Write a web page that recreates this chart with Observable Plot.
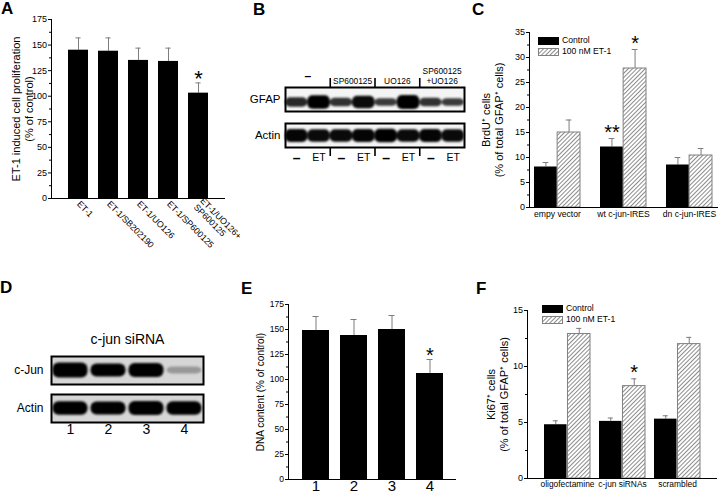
<!DOCTYPE html>
<html>
<head>
<meta charset="utf-8">
<script src="https://cdn.jsdelivr.net/npm/d3@7"></script>
<script src="https://cdn.jsdelivr.net/npm/@observablehq/plot@0.6"></script>
<style>
  body { margin: 0; background: #fff; }
  #fig { position: relative; width: 720px; height: 495px; overflow: hidden; background: #fff;
         font-family: 'Liberation Sans', Arial, Helvetica, sans-serif; color: #000; }
  .panel { position: absolute; }
  .panel svg { overflow: visible; }
  .letter { position: absolute; font-weight: bold; font-size: 17px; line-height: 17px; }
  .legend { position: absolute; font-size: 8.6px; line-height: 11px; }
  .legend div { display: flex; align-items: center; height: 11px; }
  .legend svg { margin-right: 3px; }
</style>
</head>
<body>
<svg width="0" height="0" style="position:absolute">
  <defs>
    <pattern id="hatch" patternUnits="userSpaceOnUse" width="3" height="3" patternTransform="rotate(45)">
      <rect width="3" height="3" fill="white"></rect>
      <line x1="1.5" y1="0" x2="1.5" y2="3" stroke="#8c8c8c" stroke-width="1"></line>
    </pattern>
    <filter id="blur" x="-20%" y="-60%" width="140%" height="220%">
      <feGaussianBlur stdDeviation="0.8"></feGaussianBlur>
    </filter>
  </defs>
</svg>
<div id="fig"></div>
<script>
// ---------------- data ----------------
// Panel A
const aCategories = ["ET-1", "ET-1/SB202190", "ET-1/UO126", "ET-1/SP600125", "ET-1/UO126+\nSP600125"];
const aMeans = [145, 144, 135, 134, 103];
const aErrors = [12, 13, 12, 13, 10];
const aStars = ["", "", "", "", "*"];
const aTicks = [0, 25, 50, 75, 100, 125, 150, 175];
const aMinor = [12.5, 37.5, 62.5, 87.5, 112.5, 137.5, 162.5];
const aYLabel = "ET-1 induced cell proliferation\n(% of control)";

// Panel B (western blot, relative band intensity per lane)
const bRows = ["GFAP", "Actin"];
const bTreatments = ["–", "SP600125", "UO126", "SP600125\n+UO126"];
const bLaneLabels = ["–", "ET", "–", "ET", "–", "ET", "–", "ET"];
const bGfap = [0.55, 0.95, 0.45, 0.85, 0.35, 1.0, 0.45, 0.35];
const bActin = [0.9, 0.85, 0.85, 0.9, 0.95, 0.85, 0.9, 0.85];

// Panel C
const cSeries = ["Control", "100 nM ET-1"];
const cGroups = ["empy vector", "wt c-jun-IRES", "dn c-jun-IRES"];
const cControl = [8.1, 12.1, 8.5];
const cControlErr = [0.9, 1.7, 1.5];
const cET = [15.0, 27.8, 10.4];
const cETErr = [2.5, 3.8, 1.4];
const cControlStars = ["", "**", ""];
const cETStars = ["", "*", ""];
const cTicks = [0, 5, 10, 15, 20, 25, 30, 35];
const cMinor = [2.5, 7.5, 12.5, 17.5, 22.5, 27.5, 32.5];
const cYLabel = "BrdU⁺ cells\n(% of total GFAP⁺ cells)";

// Panel D (western blot)
const dTitle = "c-jun siRNA";
const dRows = ["c-Jun", "Actin"];
const dLaneLabels = ["1", "2", "3", "4"];
const dCjun = [1.0, 0.8, 0.9, 0.2];
const dActin = [0.85, 0.8, 0.9, 0.85];

// Panel E
const eLanes = ["1", "2", "3", "4"];
const eMeans = [149, 144, 150, 106];
const eErrors = [14, 16, 14, 14];
const eStars = ["", "", "", "*"];
const eYLabel = "DNA content (% of control)";

// Panel F
const fSeries = ["Control", "100 nM ET-1"];
const fGroups = ["oligofectamine", "c-jun siRNAs", "scrambled"];
const fControl = [4.8, 5.1, 5.3];
const fControlErr = [0.35, 0.3, 0.3];
const fET = [12.9, 8.25, 12.0];
const fETErr = [0.5, 0.65, 0.6];
const fControlStars = ["", "", ""];
const fETStars = ["", "*", ""];
const fTicks = [0, 5, 10, 15];
const fMinor = [2.5, 7.5, 12.5];
const fYLabel = "Ki67⁺ cells\n(% of total GFAP⁺ cells)";

const panelLetters = ["A", "B", "C", "D", "E", "F"];

// ---------------- helpers ----------------
const FONT = "'Liberation Sans', Arial, Helvetica, sans-serif";
const STYLE = {fontFamily: FONT, fontSize: "9px", color: "black", background: "transparent", overflow: "visible"};
const ERR = "#7d7d7d";
const fig = document.getElementById("fig");

function place(node, left, top, width, height) {
  const div = document.createElement("div");
  div.className = "panel";
  div.style.left = left + "px";
  div.style.top = top + "px";
  div.style.width = width + "px";
  div.style.height = height + "px";
  div.appendChild(node);
  fig.appendChild(div);
}

function simpleBars(cfg) {
  const data = cfg.cats.map((c, i) => ({c, v: cfg.means[i], top: cfg.means[i] + cfg.errs[i], s: cfg.stars[i]}));
  const band = d3.scaleBand().domain(cfg.cats).range([cfg.ml, cfg.width - cfg.mr])
    .paddingInner(cfg.pi).paddingOuter(cfg.po).bandwidth();
  const capInset = Math.max(0, (band - 6) / 2);
  return Plot.plot({
    width: cfg.width, height: cfg.height,
    marginLeft: cfg.ml, marginRight: cfg.mr, marginTop: cfg.mt, marginBottom: cfg.mb,
    style: STYLE,
    x: {domain: cfg.cats, paddingInner: cfg.pi, paddingOuter: cfg.po},
    y: {domain: cfg.yDomain},
    marks: [
      Plot.ruleX(data, {x: "c", y1: "v", y2: "top", stroke: ERR, strokeWidth: 1}),
      Plot.tickY(data, {x: "c", y: "top", stroke: ERR, insetLeft: capInset, insetRight: capInset}),
      Plot.barY(data, {x: "c", y: "v", fill: "black"}),
      Plot.text(data, {x: "c", y: "top", text: "s", dy: cfg.starDy, fontSize: cfg.starSize}),
      Plot.ruleY([0]),
      Plot.frame({anchor: "left"}),
      Plot.axisY({ticks: cfg.ticks, tickSize: 3, tickPadding: 1.5, fontSize: cfg.yFont, label: null}),
      Plot.axisY({ticks: cfg.minor, tickSize: 2, tickFormat: () => "", label: null}),
      Plot.axisX({tickSize: 0, tickPadding: cfg.xPad, tickRotate: cfg.rotate || 0, fontSize: cfg.xFont, label: null, lineHeight: 1.05}),
      Plot.text([cfg.ylabel], {text: d => d, frameAnchor: "left", textAnchor: "middle", rotate: -90, dx: cfg.labelDx, fontSize: cfg.labelFont, lineHeight: 1.15})
    ]
  });
}

function groupedBars(cfg) {
  const ctl = cfg.groups.map((g, i) => ({g, v: cfg.ctl[i], top: cfg.ctl[i] + cfg.ctlErr[i], s: cfg.ctlStars[i]}));
  const et = cfg.groups.map((g, i) => ({g, v: cfg.et[i], top: cfg.et[i] + cfg.etErr[i], s: cfg.etStars[i]}));
  const band = d3.scaleBand().domain(cfg.groups).range([cfg.ml, cfg.width - cfg.mr])
    .paddingInner(cfg.pi).paddingOuter(cfg.po).bandwidth();
  const half = band / 2, q = band / 4;
  const capInset = Math.max(0, (band - 6) / 2);
  return Plot.plot({
    width: cfg.width, height: cfg.height,
    marginLeft: cfg.ml, marginRight: cfg.mr, marginTop: cfg.mt, marginBottom: cfg.mb,
    style: STYLE,
    x: {domain: cfg.groups, paddingInner: cfg.pi, paddingOuter: cfg.po},
    y: {domain: cfg.yDomain},
    marks: [
      Plot.ruleX(ctl, {x: "g", y1: "v", y2: "top", dx: -q, stroke: ERR}),
      Plot.tickY(ctl, {x: "g", y: "top", dx: -q, stroke: ERR, insetLeft: capInset, insetRight: capInset}),
      Plot.ruleX(et, {x: "g", y1: "v", y2: "top", dx: q, stroke: ERR}),
      Plot.tickY(et, {x: "g", y: "top", dx: q, stroke: ERR, insetLeft: capInset, insetRight: capInset}),
      Plot.barY(ctl, {x: "g", y: "v", insetRight: half, fill: "black"}),
      Plot.barY(et, {x: "g", y: "v", insetLeft: half, fill: "url(#hatch)", stroke: "#808080", strokeWidth: 1}),
      Plot.text(ctl, {x: "g", y: "top", text: "s", dx: -q, dy: cfg.starDy, fontSize: cfg.starSize}),
      Plot.text(et, {x: "g", y: "top", text: "s", dx: q, dy: cfg.starDy, fontSize: cfg.starSize}),
      Plot.ruleY([0]),
      Plot.frame({anchor: "left"}),
      Plot.axisY({ticks: cfg.ticks, tickSize: 3, tickPadding: 1.5, fontSize: cfg.yFont, label: null}),
      Plot.axisY({ticks: cfg.minor, tickSize: 2, tickFormat: () => "", label: null}),
      Plot.axisX({tickSize: 0, tickPadding: cfg.xPad, fontSize: cfg.xFont, label: null}),
      Plot.text([cfg.ylabel], {text: d => d, frameAnchor: "left", textAnchor: "middle", rotate: -90, dx: cfg.labelDx, fontSize: cfg.labelFont, lineHeight: 1.15})
    ]
  });
}

function legend(series, left, top) {
  const div = document.createElement("div");
  div.className = "legend";
  div.style.left = left + "px";
  div.style.top = top + "px";
  series.forEach((name, i) => {
    const row = document.createElement("div");
    const fill = i === 0 ? "black" : "url(#hatch)";
    const stroke = i === 0 ? "black" : "#808080";
    row.innerHTML = `<svg width="21" height="8"><rect x="0.5" y="0.5" width="20" height="7" fill="${fill}" stroke="${stroke}"></rect></svg><span>${name}</span>`;
    div.appendChild(row);
  });
  fig.appendChild(div);
}

function blot(cfg) {
  const bands = [];
  cfg.rows.forEach((r, ri) => cfg.values[ri].forEach((v, lane) => bands.push({row: r, lane, v})));
  const thick = d => cfg.base + cfg.gain * d.v;
  const off = d => cfg.offsets[d.row];
  const svg = Plot.plot({
    width: cfg.width, height: cfg.height,
    marginLeft: cfg.ml, marginRight: cfg.mr, marginTop: cfg.mt, marginBottom: cfg.mb,
    style: STYLE,
    x: {domain: [0, cfg.values[0].length], axis: null},
    y: {domain: [-cfg.yHalf, cfg.yHalf], axis: null},
    fy: {domain: cfg.rows, paddingInner: cfg.pi, paddingOuter: 0},
    marks: [
      Plot.frame({fill: cfg.bg, stroke: "none"}),
      Plot.rect(bands, {
        x1: "lane", x2: d => d.lane + 1,
        y1: d => off(d) - thick(d) / 2, y2: d => off(d) + thick(d) / 2,
        fy: "row", fill: "#050505", fillOpacity: d => Math.min(1, cfg.o0 + cfg.o1 * d.v),
        rx: cfg.rx, insetLeft: cfg.gap, insetRight: cfg.gap
      }),
      Plot.frame({stroke: "black", strokeWidth: 2}),
      Plot.axisFy({anchor: "left", tickSize: 0, tickPadding: cfg.rowPad, fontSize: cfg.rowFont, label: null}),
      ...cfg.extra
    ]
  });
  d3.select(svg).selectAll('g[aria-label="rect"]').attr("filter", "url(#blur)");
  return svg;
}

// ---------------- Panel A ----------------
place(simpleBars({
  cats: aCategories, means: aMeans, errs: aErrors, stars: aStars,
  width: 235, height: 250, ml: 51, mr: 10, mt: 19, mb: 52,
  pi: 0.32, po: 0.5, yDomain: [0, 175], ticks: aTicks, minor: aMinor,
  rotate: 45, xFont: 8.8, xPad: 4, yFont: 9,
  ylabel: aYLabel, labelDx: -29, labelFont: 11, starDy: -4, starSize: 22
}), 0, 0, 235, 250);

// ---------------- Panel C ----------------
place(groupedBars({
  groups: cGroups, ctl: cControl, ctlErr: cControlErr, et: cET, etErr: cETErr,
  ctlStars: cControlStars, etStars: cETStars,
  width: 250, height: 250, ml: 59, mr: 2, mt: 32, mb: 43,
  pi: 0.3, po: 0.08, yDomain: [0, 35], ticks: cTicks, minor: cMinor,
  xFont: 8.6, xPad: 3, yFont: 9, ylabel: cYLabel, labelDx: -37, labelFont: 11,
  starDy: -6, starSize: 20
}), 470, 0, 250, 250);
legend(cSeries, 538, 35);

// ---------------- Panel E ----------------
place(simpleBars({
  cats: eLanes, means: eMeans, errs: eErrors, stars: eStars,
  width: 230, height: 245, ml: 53, mr: 9, mt: 54, mb: 16,
  pi: 0.29, po: 0.355, yDomain: [0, 175], ticks: aTicks, minor: aMinor,
  rotate: 0, xFont: 15, xPad: 0, yFont: 8.6,
  ylabel: eYLabel, labelDx: -28, labelFont: 10, starDy: -4, starSize: 20
}), 235, 250, 230, 245);

// ---------------- Panel F ----------------
place(groupedBars({
  groups: fGroups, ctl: fControl, ctlErr: fControlErr, et: fET, etErr: fETErr,
  ctlStars: fControlStars, etStars: fETStars,
  width: 250, height: 245, ml: 57, mr: 3, mt: 60, mb: 17,
  pi: 0.16, po: 0.28, yDomain: [0, 15], ticks: fTicks, minor: fMinor,
  xFont: 8.4, xPad: 3, yFont: 9, ylabel: fYLabel, labelDx: -30, labelFont: 11,
  starDy: -6, starSize: 20
}), 470, 250, 250, 245);
legend(fSeries, 542, 303);

// ---------------- Panel B (blot) ----------------
const bTreatData = bTreatments.map((t, i) => ({t, x: 2 * i + 1, row: "GFAP"}));
const bLaneData = bLaneLabels.map((t, i) => ({t, x: i + 0.5, row: "Actin"}));
const bTopDiv = [2, 4, 6].map(x => ({x, row: "GFAP"}));
const bBotDiv = [2, 4, 6].map(x => ({x, row: "Actin"}));
place(blot({
  rows: bRows, values: [bGfap, bActin],
  width: 255, height: 115, ml: 70, mr: 6, mt: 27, mb: 27, pi: 0.33, yHalf: 12,
  bg: "#f4f4f4", base: 4, gain: 10, offsets: {GFAP: -3, Actin: -0.5}, gap: 0, rx: 5,
  o0: 0.62, o1: 0.4,
  rowPad: 5, rowFont: 11.5,
  extra: [
    Plot.text(bTreatData, {filter: d => d.t !== "–", x: "x", y: 12, fy: "row", text: "t", lineAnchor: "bottom", dy: -4, fontSize: 8.4, lineHeight: 1.1}),
    Plot.text(bTreatData, {filter: d => d.t === "–", x: "x", y: 12, fy: "row", text: "t", dy: -11, fontSize: 12, fontWeight: "bold"}),
    Plot.ruleX(bTopDiv, {x: "x", y1: 12, y2: 21, fy: "row", strokeWidth: 1.6}),
    Plot.text(bLaneData, {filter: d => d.t !== "–", x: "x", y: -12, fy: "row", text: "t", lineAnchor: "top", dy: 6, fontSize: 10.5}),
    Plot.text(bLaneData, {filter: d => d.t === "–", x: "x", y: -12, fy: "row", text: "t", dy: 11, fontSize: 14, fontWeight: "bold"}),
    Plot.ruleX(bBotDiv, {x: "x", y1: -12, y2: -21, fy: "row", strokeWidth: 1.6})
  ]
}), 215, 60, 255, 115);

// ---------------- Panel D (blot) ----------------
const dTitleData = [{t: dTitle, row: "c-Jun"}];
const dLaneData = dLaneLabels.map((t, i) => ({t, x: i + 0.5, row: "Actin"}));
place(blot({
  rows: dRows, values: [dCjun, dActin],
  width: 220, height: 125, ml: 51, mr: 17, mt: 36, mb: 22, pi: 0.26, yHalf: 14,
  bg: "#d6d6d6", base: 5, gain: 10, offsets: {"c-Jun": 0, Actin: 0}, gap: 1.5, rx: 6,
  o0: 0.05, o1: 1.2,
  rowPad: 8, rowFont: 12,
  extra: [
    Plot.text(dTitleData, {frameAnchor: "top", fy: "row", text: "t", lineAnchor: "bottom", dy: -13, fontSize: 14}),
    Plot.text(dLaneData, {x: "x", y: -14, fy: "row", text: "t", lineAnchor: "top", dy: 2, fontSize: 14})
  ]
}), 0, 320, 220, 125);

// ---------------- panel letters ----------------
const letterPos = [[1, 0], [253, 1], [472, 1], [0, 279], [241, 280], [476, 280]];
panelLetters.forEach((l, i) => {
  const d = document.createElement("div");
  d.className = "letter";
  d.textContent = l;
  d.style.left = letterPos[i][0] + "px";
  d.style.top = letterPos[i][1] + "px";
  fig.appendChild(d);
});
</script>
</body>
</html>
